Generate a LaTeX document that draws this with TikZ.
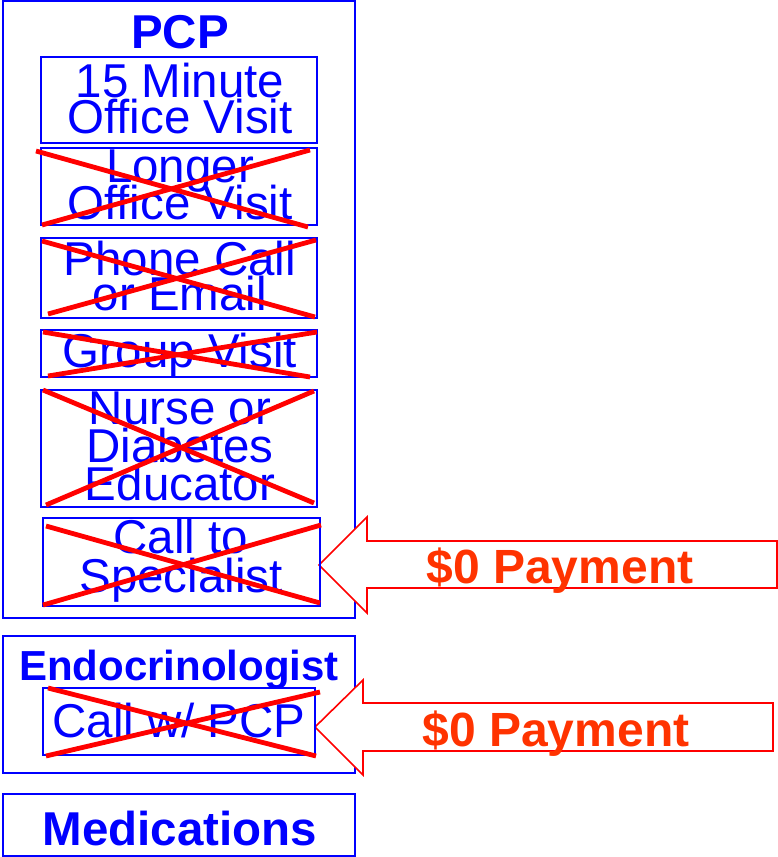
\documentclass[tikz,border=0pt]{standalone}
\usepackage{fontspec}
\setmainfont{Liberation Sans}
\definecolor{pblue}{RGB}{0,0,255}
\definecolor{xred}{RGB}{255,0,0}
\definecolor{payc}{RGB}{255,51,0}
\tikzset{
  box/.style={draw=pblue, line width=1.6pt},
  cross/.style={draw=xred, line width=4.8pt},
  lbl/.style={text=pblue, font=\fontsize{47.5}{47.5}\selectfont, anchor=base, inner sep=0pt},
  ttl/.style={text=pblue, font=\bfseries\fontsize{47.5}{47.5}\selectfont, anchor=base, inner sep=0pt},
  pay/.style={text=payc, font=\bfseries\fontsize{48}{48}\selectfont, anchor=base, inner sep=0pt},
  arr/.style={draw=xred, line width=1.6pt, fill=white, line join=miter},
}
\begin{document}
\begin{tikzpicture}[x=1pt,y=-1pt]
\useasboundingbox (0,0) rectangle (778,857);
% outer boxes
\draw[box] (3,1) rectangle (355,618);
\draw[box] (3,636) rectangle (355,773);
\draw[box] (3,794) rectangle (355,856);
% titles
\node[ttl] (tpcp) at (180,48) {PCP};
\node[ttl, font=\bfseries\fontsize{42}{42}\selectfont] (tendo) at (179,680) {Endocrinologist};
\node[ttl] (tmed) at (180,845) {Medications};
% arrows
\draw[arr] (319,565) -- (367,517) -- (367,541) -- (777,541) -- (777,588) -- (367,588) -- (367,613) -- cycle;
\draw[arr] (315,727) -- (363,680) -- (363,703) -- (773,703) -- (773,751) -- (363,751) -- (363,775) -- cycle;
\node[pay] (p1) at (560,583) {\$0 Payment};
\node[pay] (p2) at (556,746) {\$0 Payment};
% inner boxes
\draw[box] (41,57) rectangle (317,143);
\draw[box] (41,148) rectangle (317,225);
\draw[box] (41,238) rectangle (317,318);
\draw[box] (41,330) rectangle (317,377);
\draw[box] (41,390) rectangle (317,507);
\draw[box] (43,518) rectangle (320,606);
\draw[box] (43,688) rectangle (315,755);
% texts
\node[lbl] (a1) at (180,97) {15 Minute};
\node[lbl] (a2) at (180,133) {Office Visit};
\node[lbl] (b1) at (180,182) {Longer};
\node[lbl] (b2) at (180,219) {Office Visit};
\node[lbl] (c1) at (180,275) {Phone Call};
\node[lbl] (c2) at (180,310) {or Email};
\node[lbl] (d1) at (180,367) {Group Visit};
\node[lbl] (e1) at (180,424) {Nurse or};
\node[lbl] (e2) at (180,462) {Diabetes};
\node[lbl] (e3) at (180,500) {Educator};
\node[lbl] (f1) at (181,553) {Call to};
\node[lbl] (f2) at (181,592) {Specialist};
\node[lbl] (g1) at (179,737) {Call w/ PCP};
% crosses
\draw[cross] (36,151) -- (308,227);
\draw[cross] (42,225) -- (310,150);
\draw[cross] (42,241) -- (315,317);
\draw[cross] (48,314) -- (316,240);
\draw[cross] (43,332) -- (310,377);
\draw[cross] (48,376) -- (317,332);
\draw[cross] (43,390) -- (314,503);
\draw[cross] (46,505) -- (314,391);
\draw[cross] (46,526) -- (320,603);
\draw[cross] (43,605) -- (321,525);
\draw[cross] (48,688) -- (316,756);
\draw[cross] (46,756) -- (320,692);
\end{tikzpicture}
\end{document}
